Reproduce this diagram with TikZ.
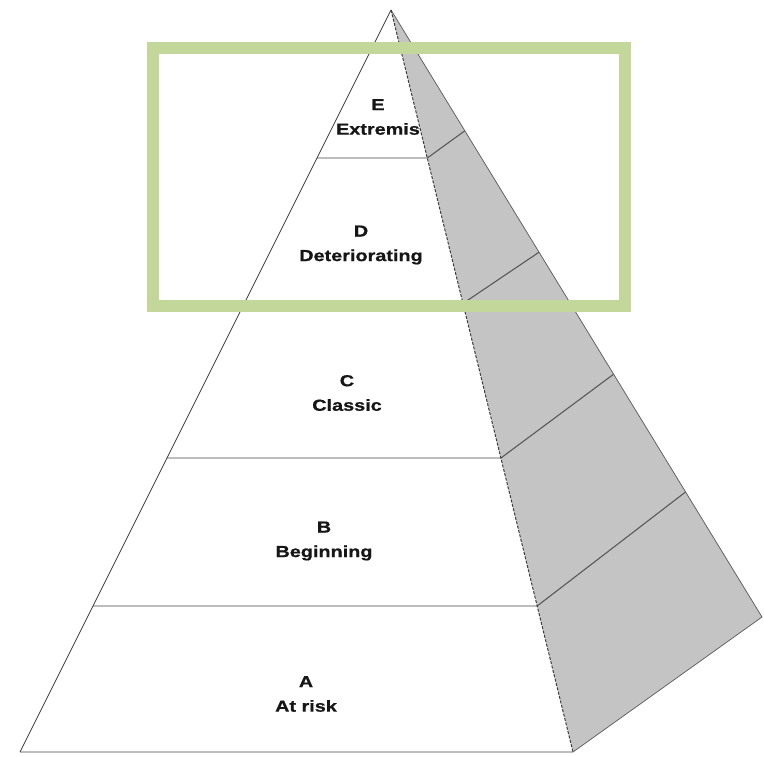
\documentclass[tikz,border=0pt]{standalone}
\usepackage{fontspec}
\newfontfamily\lblfont{Liberation Sans}[FakeStretch=1.24, BoldFeatures={FakeBold=0.8}]
\usetikzlibrary{calc}
\definecolor{boxgreen}{HTML}{C4D79B}
\definecolor{facegrey}{HTML}{C4C4C4}
\definecolor{divgrey}{HTML}{BDBDBD}
\definecolor{edgegrey}{HTML}{3C3C3C}
\definecolor{inkgrey}{HTML}{161616}
\tikzset{
  edge/.style={draw=edgegrey, line width=0.8pt},
  frontedge/.style={draw=edgegrey, line width=1pt, dash pattern=on 3pt off 1.5pt},
  divider/.style={draw=divgrey, line width=1.8pt},
  facediv/.style={draw=edgegrey!85, line width=1.1pt},
  lbl/.style={align=center, text=inkgrey, inner sep=0pt,
    font=\lblfont\bfseries\fontsize{16}{24.5}\selectfont},
  hl/.style={draw=boxgreen, line width=12pt}
}
\begin{document}
\begin{tikzpicture}[x=1pt, y=-1pt]
\useasboundingbox (0,0) rectangle (764,757);
\fill[white] (0,0) rectangle (764,757);
\coordinate (apex) at (391,10);
\coordinate (bl) at (20,752);
\coordinate (br) at (573,752);
\coordinate (bk) at (762,617);
% side face
\fill[facegrey] (apex) -- (br) -- (bk) -- cycle;
% points on edges
\foreach \n/\f/\g in {1/0.1995/0.199, 2/0.3955/0.399, 3/0.6038/0.600, 4/0.8032/0.794}{
  \coordinate (L\n) at ($(apex)!\f!(bl)$);
  \coordinate (R\n) at ($(apex)!\f!(br)$);
  \coordinate (K\n) at ($(apex)!\g!(bk)$);
}
% dividers on front face
\foreach \n in {1,2,3,4}{
  \draw[divider] (L\n) -- (R\n);
  \draw[facediv] (R\n) -- (K\n);
}
\draw[divider] (bl) -- (br);
% outer edges
\draw[edge] (apex) -- (bl);
\draw[edge, draw=edgegrey!80] (apex) -- (bk) -- (br);
\draw[frontedge] (apex) -- (br);
% labels
\node[lbl] (e) at (378,117) {E\\Extremis};
\node[lbl] (d) at (361,245) {D\\Deteriorating};
\node[lbl] (c) at (347,393) {C\\Classic};
\node[lbl] (b) at (324,541) {B\\Beginning};
\node[lbl] (a) at (306,694) {A\\At risk};
% highlight box
\draw[hl] (153,48) rectangle (625,305.5);
\end{tikzpicture}
\end{document}
